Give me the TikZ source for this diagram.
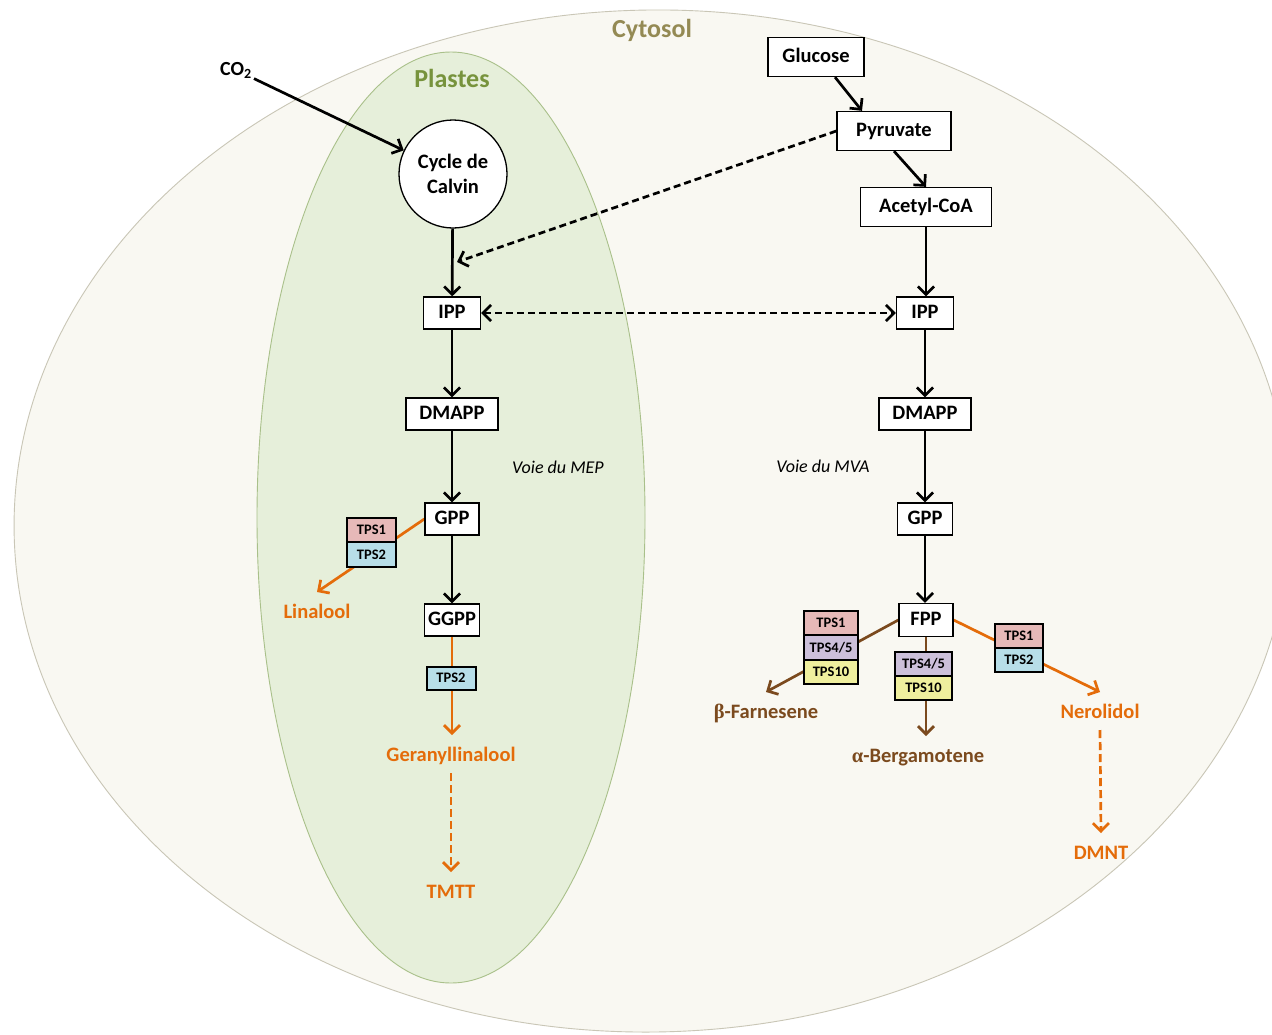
\documentclass[tikz,border=0pt]{standalone}
\usepackage{fontspec}
\setmainfont{Carlito}
\newfontfamily\grk{Liberation Serif}
\usetikzlibrary{arrows.meta}
\pgfdeclarelayer{bg}
\pgfdeclarelayer{links}
\pgfsetlayers{bg,links,main}
\definecolor{cytfill}{HTML}{F9F8F2}
\definecolor{cytdraw}{HTML}{C9C6B6}
\definecolor{plafill}{HTML}{E6EFDA}
\definecolor{pladraw}{HTML}{A9C08A}
\definecolor{cyttext}{HTML}{948A54}
\definecolor{platext}{HTML}{77933C}
\definecolor{orng}{HTML}{E46C0A}
\definecolor{brwn}{HTML}{7B4A1E}
\definecolor{ctpsA}{HTML}{E6B9B8}
\definecolor{ctpsB}{HTML}{B7DEE8}
\definecolor{ctpsC}{HTML}{CCC0DA}
\definecolor{ctpsD}{HTML}{EFEF9E}
\begin{document}
\begin{tikzpicture}[x=1pt,y=-1pt,
  box/.style={draw=black, line width=1.3pt, fill=white, font=\fontsize{20.5}{24}\selectfont\bfseries,
    inner xsep=2pt, inner ysep=0pt, minimum height=32pt, text height=14pt, text depth=4pt},
  topbox/.style={box, minimum height=39pt},
  tpsbox/.style={draw=black, line width=2pt, font=\fontsize{14.5}{16}\selectfont\bfseries,
    minimum height=24.5pt, inner sep=0pt, text height=9.5pt, text depth=0pt},
  product/.style={font=\fontsize{20.5}{24}\selectfont\bfseries, inner sep=0pt, outer sep=12pt,
    text height=14pt, text depth=0pt},
  voie/.style={font=\fontsize{18}{20}\selectfont\itshape},
  arr/.style={line width=2.7pt, -{Straight Barb[length=8pt,width=16pt]}},
  dblarr/.style={line width=2.7pt, {Straight Barb[length=8pt,width=16pt]}-{Straight Barb[length=8pt,width=16pt]},
    dash pattern=on 7pt off 4pt},
  dsh/.style={dash pattern=on 7pt off 4pt},
  oarr/.style={arr, draw=orng},
  barr/.style={arr, draw=brwn}
]
\useasboundingbox (0,0) rectangle (1272,1034);
\begin{pgfonlayer}{bg}
  \fill[white] (0,0) rectangle (1272,1034);
  \draw[fill=cytfill, draw=cytdraw, line width=0.9pt, rotate around={1.2:(652,521)}]
    (652,521) ellipse [x radius=638, y radius=511];
  \draw[fill=plafill, draw=pladraw, line width=0.9pt] (451,517.5) ellipse [x radius=194, y radius=465.5];
\end{pgfonlayer}

% region labels
\node[font=\fontsize{26}{30}\selectfont\bfseries, text=cyttext] (cytosol) at (652,30) {Cytosol};
\node[font=\fontsize{26}{30}\selectfont\bfseries, text=platext] (plastes) at (452,78) {Plastes};
\node[font=\fontsize{20}{24}\selectfont\bfseries, inner sep=2pt] (co2) at (236,70) {CO\textsubscript{2}};
\node[voie] (mep) at (558,467) {Voie du MEP};
\node[voie] (mva) at (823,466) {Voie du MVA};

% top boxes
\node[topbox, minimum width=96pt] (glucose) at (816,57) {Glucose};
\node[topbox, minimum width=114pt] (pyruvate) at (894,131) {Pyruvate};
\node[topbox, minimum width=131pt] (acetyl) at (926,207) {Acetyl-CoA};
\node[draw=black, circle, fill=white, line width=1.3pt, minimum size=108pt, inner sep=0pt, align=center,
  font=\fontsize{20.5}{25}\selectfont\bfseries] (calvin) at (453,174) {Cycle de\\Calvin};

% MEP column
\node[box, minimum width=57pt] (ippL) at (452,313) {IPP};
\node[box, minimum width=92pt] (dmappL) at (452,414) {DMAPP};
\node[box, minimum width=54pt] (gppL) at (452,519) {GPP};
\node[box, minimum width=55pt] (ggpp) at (452,620) {GGPP};
% MVA column
\node[box, minimum width=57pt] (ippR) at (925,313) {IPP};
\node[box, minimum width=92pt] (dmappR) at (925,414) {DMAPP};
\node[box, minimum width=55pt] (gppR) at (925,519) {GPP};
\node[box, minimum width=54pt, minimum height=33pt] (fpp) at (926,620) {FPP};

% TPS boxes
\node[tpsbox, fill=ctpsB, minimum width=49pt, minimum height=23pt] (tpsG) at (451,678) {TPS2};
\node[tpsbox, fill=ctpsA, minimum width=49pt] (tpsLa) at (371.5,530) {TPS1};
\node[tpsbox, fill=ctpsB, minimum width=49pt] (tpsLb) at (371.5,554.5) {TPS2};
\node[tpsbox, fill=ctpsA, minimum width=48pt] (tpsNa) at (1019,636) {TPS1};
\node[tpsbox, fill=ctpsB, minimum width=48pt] (tpsNb) at (1019,660) {TPS2};
\node[tpsbox, fill=ctpsA, minimum width=54pt] (tpsFa) at (831,623) {TPS1};
\node[tpsbox, fill=ctpsC, minimum width=54pt] (tpsFb) at (831,647.5) {TPS4/5};
\node[tpsbox, fill=ctpsD, minimum width=54pt] (tpsFc) at (831,672) {TPS10};
\node[tpsbox, fill=ctpsC, minimum width=57pt] (tpsBa) at (923.5,664) {TPS4/5};
\node[tpsbox, fill=ctpsD, minimum width=57pt] (tpsBb) at (923.5,688) {TPS10};

% products
\node[product, text=orng] (linalool) at (317,611) {Linalool};
\node[product, text=orng] (gerany) at (451,754) {Geranyllinalool};
\node[product, text=orng] (tmtt) at (451,891) {TMTT};
\node[product, text=brwn] (farnesene) at (766,711) {{\grk β}-Farnesene};
\node[product, text=brwn] (bergamotene) at (918,755) {{\grk α}-Bergamotene};
\node[product, text=orng] (nerolidol) at (1100,711) {Nerolidol};
\node[product, text=orng] (dmnt) at (1101,852) {DMNT};

\coordinate (mepin) at (457,262);

\begin{pgfonlayer}{links}
  \draw[arr] (co2) -- (calvin);
  \draw[arr] ([xshift=19pt]glucose.south) -- ([xshift=-32pt]pyruvate.north);
  \draw[arr] (pyruvate.south) -- (acetyl.north);
  \draw[arr] (acetyl.south) -- (acetyl.south |- ippR.north);
  \draw[arr] (calvin) -- (ippL);
  \draw[arr, dsh] (pyruvate.west) -- (mepin);
  \draw[dblarr] (ippL) -- (ippR);
  \draw[arr] (ippL) -- (dmappL);
  \draw[arr] (dmappL) -- (gppL);
  \draw[arr] (gppL) -- (ggpp);
  \draw[arr] (ippR) -- (dmappR);
  \draw[arr] (dmappR) -- (gppR);
  \draw[arr] (gppR.south) -- (gppR.south |- fpp.north);
  % terpene branches
  \draw[oarr] (gppL.west) -- (linalool.north);
  \draw[oarr] (ggpp.south) -- (ggpp.south |- gerany.north);
  \draw[oarr, dash pattern=on 8pt off 4pt] (gerany.south) -- (tmtt.north);
  \draw[oarr] (fpp.east) -- (nerolidol.north);
  \draw[oarr, dash pattern=on 8pt off 4pt] (nerolidol.south) -- (dmnt.north);
  \draw[barr] (fpp.west) -- (farnesene.north);
  \draw[barr] (fpp.south) -- (fpp.south |- bergamotene.north);
\end{pgfonlayer}
\end{tikzpicture}
\end{document}
